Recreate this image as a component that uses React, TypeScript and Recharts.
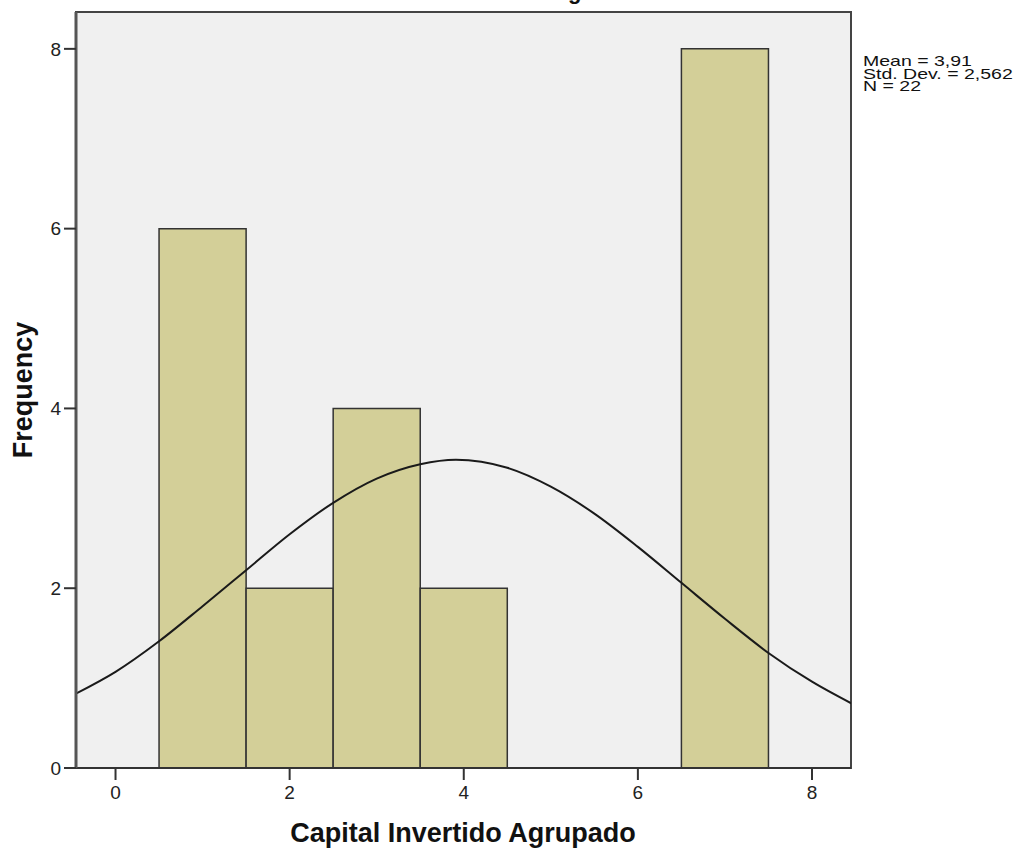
import {
  ComposedChart,
  Line,
  XAxis,
  YAxis,
  CartesianGrid,
  ReferenceArea,
} from 'recharts';

// histogram bins (lower edge, upper edge, frequency)
const binStart = [0.5, 1.5, 2.5, 3.5, 6.5];
const binEnd = [1.5, 2.5, 3.5, 4.5, 7.5];
const frequency = [6, 2, 4, 2, 8];

// normal curve
const curveX = [-0.45, 0, 0.5, 1, 1.5, 2, 2.5, 3, 3.5, 3.91, 4.5, 5, 5.5, 6, 6.5, 7, 7.5, 8, 8.45];
const curveY = [0.83, 1.07, 1.41, 1.8, 2.2, 2.6, 2.95, 3.22, 3.38, 3.43, 3.34, 3.13, 2.83, 2.46, 2.06, 1.66, 1.28, 0.96, 0.72];

const xTicks = [0, 2, 4, 6, 8];
const yTicks = [0, 2, 4, 6, 8];
const xDomain: [number, number] = [-0.454, 8.448];
const yDomain: [number, number] = [0, 8.41];

const stats = ['Mean = 3,91', 'Std. Dev. = 2,562', 'N = 22'];

const curveData = curveX.map((x, i) => ({ x, y: curveY[i] }));

const font = '"Liberation Sans", Arial, sans-serif';

export default function App() {
  return (
    <div style={{ position: 'absolute', left: 0, top: 0, width: 1025, height: 852, background: '#fff', fontFamily: font }}>
      <ComposedChart
        width={1025}
        height={852}
        data={curveData}
        margin={{ top: 12, right: 174, left: 36, bottom: 44 }}
      >
        <CartesianGrid fill="#f0f0f0" horizontal={false} vertical={false} />
        <XAxis
          type="number"
          dataKey="x"
          domain={xDomain}
          ticks={xTicks}
          allowDataOverflow
          height={40}
          tickSize={12}
          tickMargin={6}
          axisLine={{ stroke: '#333', strokeWidth: 2 }}
          tickLine={{ stroke: '#333', strokeWidth: 2 }}
          tick={{ fill: '#222', fontSize: 19, fontFamily: font }}
        />
        <YAxis
          type="number"
          domain={yDomain}
          ticks={yTicks}
          allowDataOverflow
          width={40}
          tickSize={12}
          tickMargin={3}
          axisLine={{ stroke: '#555', strokeWidth: 3 }}
          tickLine={{ stroke: '#333', strokeWidth: 2 }}
          tick={{ fill: '#222', fontSize: 19, fontFamily: font }}
        />
        <ReferenceArea
          x1={xDomain[0]}
          x2={xDomain[1]}
          y1={yDomain[0]}
          y2={yDomain[1]}
          fill="none"
          fillOpacity={0}
          stroke="#444"
          strokeWidth={2}
          strokeOpacity={1}
        />
        {frequency.map((f, i) => (
          <ReferenceArea
            key={i}
            x1={binStart[i]}
            x2={binEnd[i]}
            y1={0}
            y2={f}
            fill="#d3cf98"
            fillOpacity={1}
            stroke="#333"
            strokeWidth={1.5}
            strokeOpacity={1}
          />
        ))}
        <Line
          dataKey="y"
          type="monotone"
          stroke="#1a1a1a"
          strokeWidth={2}
          dot={false}
          activeDot={false}
          isAnimationActive={false}
        />
      </ComposedChart>

      <svg style={{ position: 'absolute', left: 0, top: 0 }} width={1025} height={20}>
        <text x={513} y={-1} fontFamily={font} fontWeight="bold" fontSize={22} fill="#111">
          Histogram
        </text>
      </svg>

      <div
        style={{
          position: 'absolute',
          left: 863,
          top: 55,
          fontSize: 15,
          lineHeight: '12.5px',
          color: '#111',
          whiteSpace: 'nowrap',
          transform: 'scaleX(1.3)',
          transformOrigin: 'left top',
        }}
      >
        {stats.map((s) => (
          <div key={s}>{s}</div>
        ))}
      </div>

      <div
        style={{
          position: 'absolute',
          left: 463,
          top: 833,
          transform: 'translate(-50%, -50%)',
          fontSize: 27,
          fontWeight: 'bold',
          whiteSpace: 'nowrap',
          color: '#111',
        }}
      >
        Capital Invertido Agrupado
      </div>
      <div
        style={{
          position: 'absolute',
          left: 23,
          top: 390,
          transform: 'translate(-50%, -50%) rotate(-90deg)',
          fontSize: 27,
          fontWeight: 'bold',
          whiteSpace: 'nowrap',
          color: '#111',
        }}
      >
        Frequency
      </div>
    </div>
  );
}
